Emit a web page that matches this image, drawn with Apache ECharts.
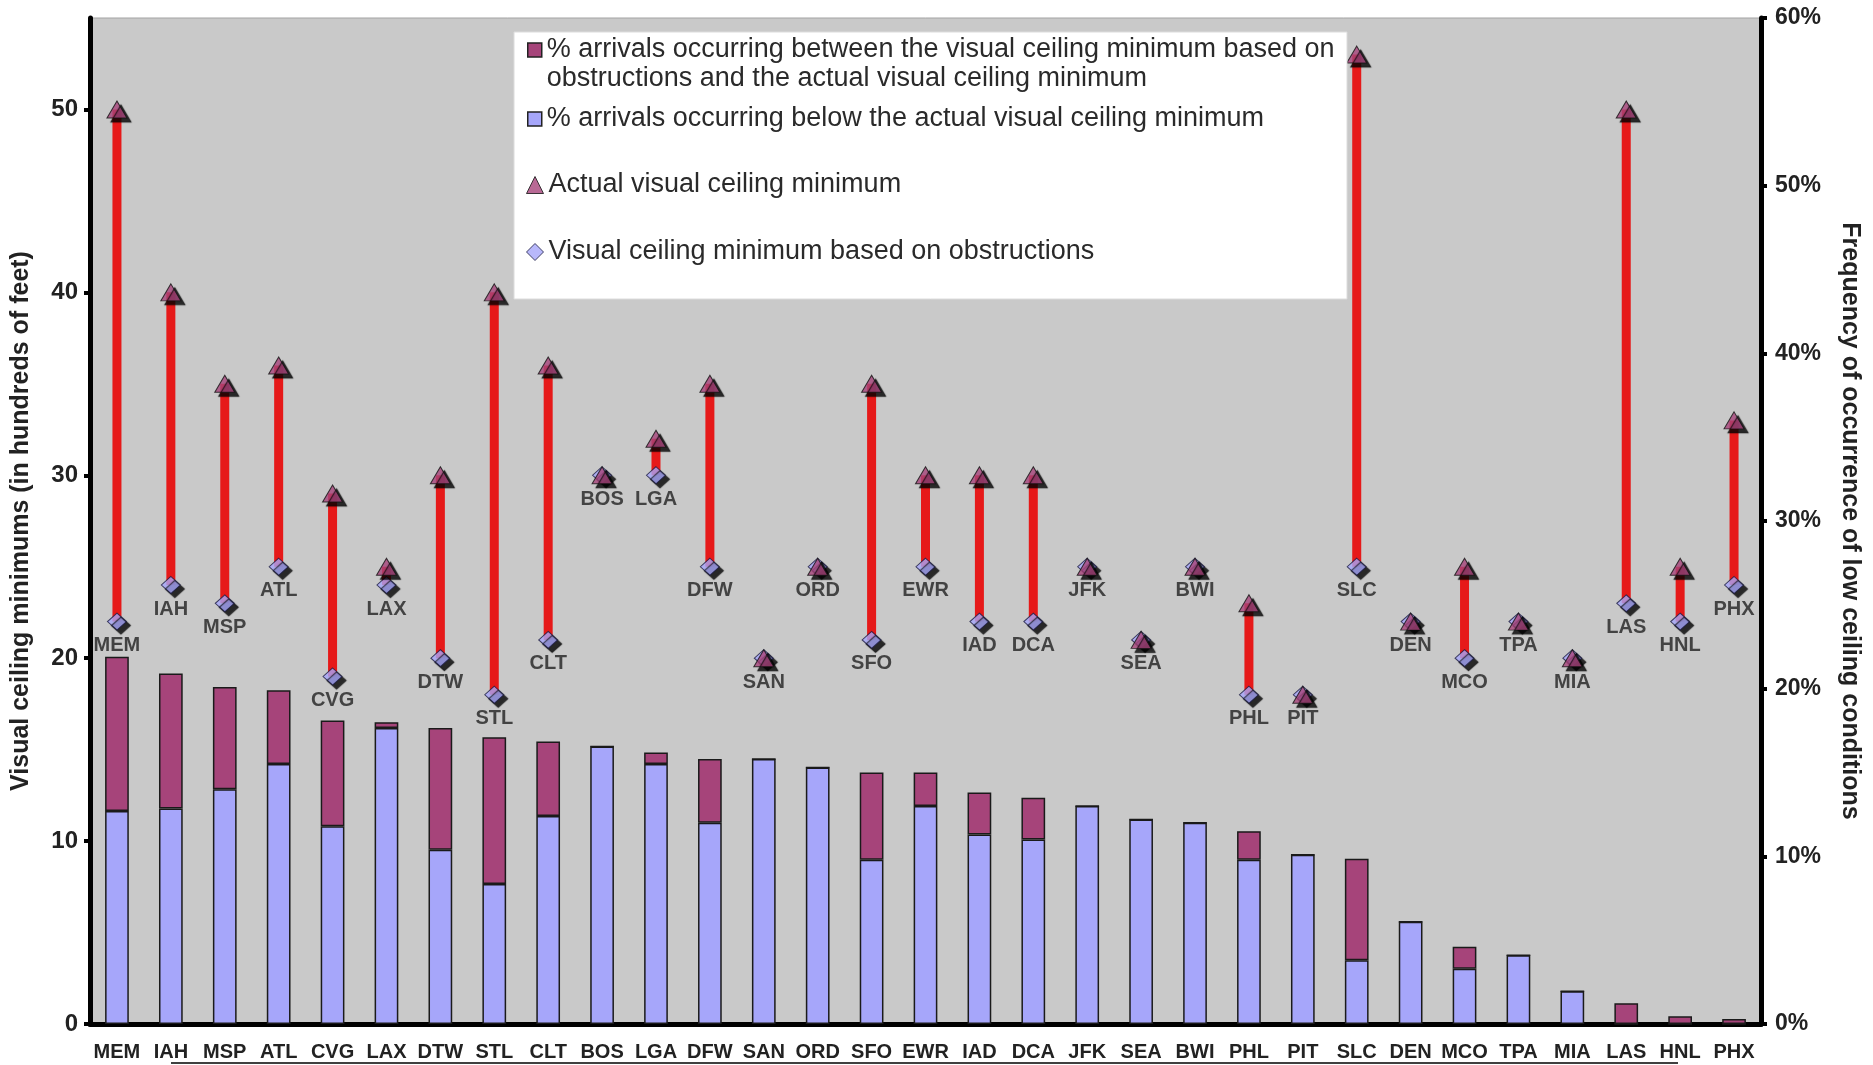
<!DOCTYPE html>
<html>
<head>
<meta charset="utf-8">
<title>Visual ceiling minimums and low ceiling frequency by airport</title>
<script src="https://cdn.jsdelivr.net/npm/echarts@6/dist/echarts.min.js"></script>
<style>
  html, body { margin: 0; padding: 0; background: #fff; }
  #chart { width: 1873px; height: 1065px; }
</style>
</head>
<body>
<div id="chart"></div>
<script>
// Airports, ordered by total frequency of low ceiling conditions
const categories = ['MEM','IAH','MSP','ATL','CVG','LAX','DTW','STL','CLT','BOS','LGA','DFW','SAN','ORD','SFO','EWR','IAD','DCA','JFK','SEA','BWI','PHL','PIT','SLC','DEN','MCO','TPA','MIA','LAS','HNL','PHX'];

// % arrivals below the actual visual ceiling minimum (right axis)
const belowPct = [12.7, 12.85, 14.0, 15.5, 11.8, 17.65, 10.4, 8.35, 12.4, 16.55, 15.5, 12.0, 15.8, 15.3, 9.8, 13.0, 11.3, 11.0, 13.0, 12.2, 12.0, 9.8, 10.1, 3.8, 6.1, 3.3, 4.1, 1.96, 0, 0, 0];

// % arrivals between the obstruction-based minimum and the actual minimum (right axis)
const betweenPct = [9.2, 8.05, 6.1, 4.4, 6.3, 0.35, 7.25, 8.75, 4.45, 0, 0.7, 3.8, 0, 0, 5.2, 2.0, 2.5, 2.5, 0, 0, 0, 1.7, 0, 6.05, 0, 1.3, 0, 0, 1.24, 0.46, 0.3];

// Actual visual ceiling minimum, hundreds of feet (left axis)
const actualMin = [50, 40, 35, 36, 29, 25, 30, 40, 36, 30, 32, 35, 20, 25, 35, 30, 30, 30, 25, 21, 25, 23, 18, 53, 22, 25, 22, 20, 50, 25, 33];

// Visual ceiling minimum based on obstructions, hundreds of feet (left axis)
const obstructionMin = [22, 24, 23, 25, 19, 24, 20, 18, 21, 30, 30, 25, 20, 25, 21, 25, 22, 22, 25, 21, 25, 18, 18, 25, 22, 20, 22, 20, 23, 22, 24];

// Axis tick values
const leftTicks = [0, 10, 20, 30, 40, 50];
const rightTicks = [0, 10, 20, 30, 40, 50, 60];

const NAME_BETWEEN = '% arrivals occurring between the visual ceiling minimum based on obstructions and the actual visual ceiling minimum';
const NAME_BELOW = '% arrivals occurring below the actual visual ceiling minimum';
const NAME_ACTUAL = 'Actual visual ceiling minimum';
const NAME_OBSTR = 'Visual ceiling minimum based on obstructions';

const PURPLE = '#a6447a';
const BLUE = '#a6a6fa';
const RED = '#e61919';
const FONT = 'Liberation Sans';

const chart = echarts.init(document.getElementById('chart'), null, { renderer: 'canvas' });

const legendText = { fontFamily: FONT, fontSize: 27, lineHeight: 29, color: '#2a2a2a' };
const noShadow = { shadowBlur: 0, shadowOffsetX: 0, shadowOffsetY: 0, shadowColor: 'rgba(0,0,0,0)' };

const option = {
  animation: false,
  backgroundColor: '#ffffff',
  textStyle: { fontFamily: FONT },
  grid: {
    left: 90, right: 112, top: 18, bottom: 41,
    show: true, backgroundColor: '#c9c9c9', borderColor: '#a3a3a3', borderWidth: 1
  },
  graphic: [
    {
      type: 'rect', z: 3,
      shape: { x: 514, y: 32, width: 833, height: 267 },
      style: { fill: '#ffffff', stroke: '#dcdcdc', lineWidth: 1 }
    },
    {
      type: 'line', z: 3,
      shape: { x1: 171, y1: 1063, x2: 1678, y2: 1063 },
      style: { stroke: '#000', lineWidth: 1.5 }
    }
  ],
  legend: [
    {
      data: [NAME_BETWEEN], left: 527, top: 35.5, padding: 0, orient: 'vertical', z: 5,
      itemWidth: 14, itemHeight: 43,
      icon: 'path://M0,0H14V14H0Z M0,43',
      itemStyle: Object.assign({ color: PURPLE, borderColor: '#222', borderWidth: 1.5 }, noShadow),
      formatter: n => n.replace(' based on ', ' based on\n'),
      textStyle: legendText, selectedMode: false
    },
    {
      data: [NAME_BELOW], left: 527, top: 104.5, padding: 0, z: 5,
      itemWidth: 14, itemHeight: 14, icon: 'rect',
      itemStyle: Object.assign({ color: BLUE, borderColor: '#222', borderWidth: 1.5 }, noShadow),
      textStyle: legendText, selectedMode: false
    },
    {
      data: [NAME_ACTUAL], left: 526, top: 170.5, padding: 0, z: 5,
      itemWidth: 17, itemHeight: 17, icon: 'triangle',
      itemStyle: Object.assign({ color: PURPLE, borderColor: '#111', borderWidth: 1 }, noShadow),
      textStyle: legendText, selectedMode: false
    },
    {
      data: [NAME_OBSTR], left: 526, top: 237.5, padding: 0, z: 5,
      itemWidth: 17, itemHeight: 17, icon: 'diamond',
      itemStyle: Object.assign({ color: BLUE, borderColor: '#1a1a40', borderWidth: 1 }, noShadow),
      textStyle: legendText, selectedMode: false
    }
  ],
  xAxis: {
    type: 'category',
    data: categories,
    axisLine: { show: true, lineStyle: { color: '#000', width: 5 } },
    axisTick: { show: false },
    axisLabel: { interval: 0, fontSize: 20, fontWeight: 'bold', color: '#222', margin: 18 },
    splitLine: { show: false }
  },
  yAxis: [
    {
      type: 'value', position: 'left', min: 0, max: 55, interval: 10,
      name: 'Visual ceiling minimums (in hundreds of feet)',
      nameLocation: 'middle', nameGap: 56,
      nameTextStyle: { fontSize: 25, fontWeight: 'bold', color: '#222' },
      axisLine: { show: true, lineStyle: { color: '#000', width: 5 } },
      axisTick: { show: true, length: 6, customValues: leftTicks, lineStyle: { color: '#000', width: 4 } },
      axisLabel: { customValues: leftTicks, fontSize: 24, fontWeight: 'bold', color: '#222', margin: 12 },
      splitLine: { show: false }
    },
    {
      type: 'value', position: 'right', min: 0, max: 60, interval: 10,
      name: 'Frequency of occurrence of low ceiling conditions',
      nameLocation: 'middle', nameGap: 76, nameRotate: -90,
      nameTextStyle: { fontSize: 25, fontWeight: 'bold', color: '#222' },
      axisLine: { show: true, lineStyle: { color: '#000', width: 5 } },
      axisTick: { show: true, length: 6, customValues: rightTicks, lineStyle: { color: '#000', width: 4 } },
      axisLabel: { customValues: rightTicks, formatter: '{value}%', fontSize: 23, fontWeight: 'bold', color: '#222', margin: 14 },
      splitLine: { show: false }
    }
  ],
  series: [
    {
      name: NAME_BELOW, type: 'bar', yAxisIndex: 1, stack: 'freq',
      barWidth: '44%', data: belowPct,
      itemStyle: { color: BLUE, borderColor: '#1a1a1a', borderWidth: 1.5 }
    },
    {
      name: NAME_BETWEEN, type: 'bar', yAxisIndex: 1, stack: 'freq',
      barWidth: '44%', data: betweenPct,
      itemStyle: { color: PURPLE, borderColor: '#1a1a1a', borderWidth: 1.5 }
    },
    {
      // red range bar joining the two ceiling minimums of each airport
      name: 'range', type: 'custom', yAxisIndex: 0,
      data: categories.map((c, i) => [i, obstructionMin[i], actualMin[i]]),
      encode: { x: 0, y: [1, 2] },
      renderItem: (params, api) => {
        const lo = api.coord([api.value(0), api.value(1)]);
        const hi = api.coord([api.value(0), api.value(2)]);
        return {
          type: 'rect',
          shape: { x: lo[0] - 4.5, y: hi[1], width: 9, height: lo[1] - hi[1] },
          style: { fill: RED }
        };
      }
    },
    {
      name: NAME_OBSTR, type: 'scatter', yAxisIndex: 0,
      symbol: 'diamond', symbolSize: [19, 17], data: obstructionMin,
      itemStyle: {
        color: BLUE, borderColor: '#1a1a40', borderWidth: 1,
        shadowColor: '#000', shadowBlur: 1, shadowOffsetX: 4, shadowOffsetY: 4
      },
      label: {
        show: true, position: 'bottom', distance: 5,
        formatter: p => categories[p.dataIndex],
        fontSize: 20, fontWeight: 'bold', color: '#222'
      }
    },
    {
      name: NAME_ACTUAL, type: 'scatter', yAxisIndex: 0,
      symbol: 'triangle', symbolSize: [20, 17], data: actualMin,
      itemStyle: {
        color: PURPLE, borderColor: '#111', borderWidth: 1,
        shadowColor: '#000', shadowBlur: 1, shadowOffsetX: 4, shadowOffsetY: 4
      }
    }
  ]
};

chart.setOption(option);
</script>
</body>
</html>
